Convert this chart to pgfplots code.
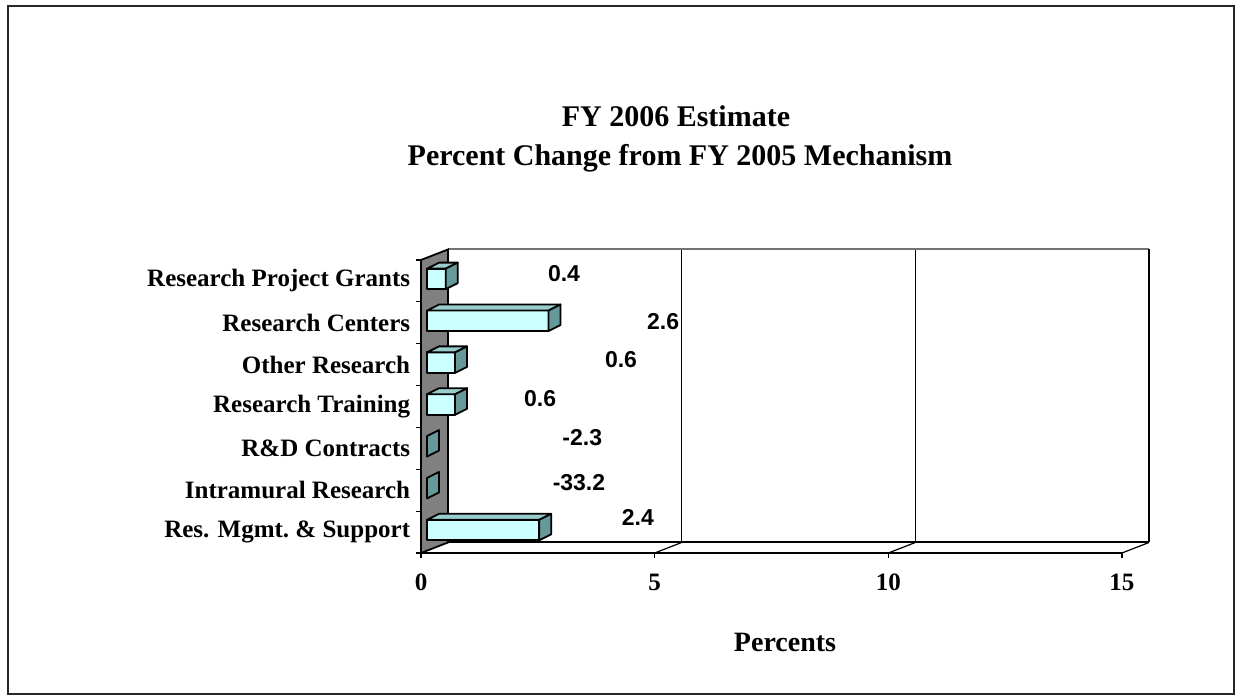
\documentclass[border=0pt]{standalone}
\usepackage{pgfplots}
\pgfplotsset{compat=1.18}
\usepackage{pgfplotstable}
\usepackage{fontspec}
\setmainfont{Liberation Serif}
\newfontfamily\arialfont{Liberation Sans}
\definecolor{frontc}{RGB}{204,255,255}
\definecolor{topc}{RGB}{153,204,204}
\definecolor{sidec}{RGB}{102,153,153}
\definecolor{wallc}{RGB}{128,128,128}
\pgfdeclareplotmark{empty}{}
% y = category centre, v = percent change, (lx,ly) = data label position
\pgfplotstableread{
y    v      lx     ly     lab
6.5  0.4    3.06   6.665  0.4
5.5  2.6    5.18   5.52   2.6
4.5  0.6    4.28   4.61   0.6
3.5  0.6    2.55   3.70   0.6
2.5  -2.3   3.45   2.75   -2.3
1.5  -33.2  3.38   1.67   -33.2
0.5  2.4    4.64   0.84   2.4
}\data
\begin{document}
\begin{tikzpicture}
\useasboundingbox (-210.5pt,-71pt) rectangle (407.5pt,276.5pt);
\draw[line width=1pt, black!85] (-206.5pt,-70.5pt) rectangle (406.5pt,273.5pt);
\node[anchor=base, font=\bfseries\fontsize{15}{17}\selectfont] at (127.5pt,213pt) {FY 2006 Estimate};
\node[anchor=base, font=\bfseries\fontsize{15}{17}\selectfont] at (129.5pt,193.5pt) {Percent Change from FY 2005 Mechanism};
\begin{axis}[
  at={(0pt,0pt)}, anchor=south west,
  x=23.365pt, y=20.93pt,
  xmin=0, xmax=15, ymin=0, ymax=7,
  clip=false,
  axis x line*=bottom, axis y line*=left,
  axis line style={draw=none},
  xtick={0,5,10,15},
  ytick={0,1,...,7},
  y tick label as interval,
  yticklabels={Res. Mgmt.\ \& Support, Intramural Research, R\&D Contracts, Research Training, Other Research, Research Centers, Research Project Grants},
  tick align=outside,
  major tick length=2.75pt,
  xtick style={black, line width=0.6pt},
  ytick style={black, line width=0.6pt},
  /pgf/number format/assume math mode=true,
  xticklabel style={font=\bfseries\fontsize{12.5}{14}\selectfont, anchor=base, yshift=-16pt},
  yticklabel style={font=\bfseries\fontsize{12.5}{14}\selectfont, anchor=east, inner xsep=2.5pt},
  xlabel={Percents},
  xlabel style={font=\bfseries\fontsize{14}{16}\selectfont, at={(axis description cs:0.5193,0)}, anchor=base, yshift=-49.5pt},
]
% back wall grid lines and edges
\pgfplotsinvokeforeach{5,10}{\draw[black, line width=0.6pt] ([xshift=13.5pt,yshift=5.25pt]axis cs:#1,0) -- ([xshift=13.5pt,yshift=5.25pt]axis cs:#1,7);}
\draw[black!55, line width=1pt] ([xshift=13.5pt,yshift=5.25pt]axis cs:0,7) -- ([xshift=13.5pt,yshift=5.25pt]axis cs:15,7);
\draw[black, line width=1pt] ([xshift=13.5pt,yshift=5.25pt]axis cs:15,0) -- ([xshift=13.5pt,yshift=5.25pt]axis cs:15,7);
% floor
\draw[black, line width=1pt] ([xshift=13.5pt,yshift=5.25pt]axis cs:0,0) -- ([xshift=13.5pt,yshift=5.25pt]axis cs:15,0);
\draw[black, line width=1pt] (axis cs:0,0) -- (axis cs:15,0);
\pgfplotsinvokeforeach{5,10,15}{\draw[black, line width=0.6pt] (axis cs:#1,0) -- ([xshift=13.5pt,yshift=5.25pt]axis cs:#1,0);}
% side wall
\filldraw[fill=wallc, draw=black, line width=0.9pt] (axis cs:0,0) -- (axis cs:0,7) -- ([xshift=13.5pt,yshift=5.25pt]axis cs:0,7) -- ([xshift=13.5pt,yshift=5.25pt]axis cs:0,0) -- cycle;
% 3-D bars (each drawn from its data point back to the zero plane)
\addplot[scatter, only marks, mark=empty,
  point meta=\thisrow{v},
  visualization depends on={\thisrow{v} \as \val},
  scatter/@pre marker code/.code={%
    \pgfmathsetmacro\barL{max(\val,0)*23.365}%
    \pgfmathsetmacro\barA{3-\val*23.365}%
    \pgfmathsetmacro\barB{\barA+\barL}%
    \pgfmathsetmacro\barAd{\barA+6}%
    \pgfmathsetmacro\barBd{\barB+6}%
    \begin{scope}[line width=0.9pt, line join=round]
      \ifdim\barL pt>0pt
        \filldraw[fill=frontc, draw=black] (canvas cs:x=\barA pt,y=-4.125pt) rectangle (canvas cs:x=\barB pt,y=6.125pt);
        \filldraw[fill=topc, draw=black] (canvas cs:x=\barA pt,y=6.125pt) -- (canvas cs:x=\barB pt,y=6.125pt) -- (canvas cs:x=\barBd pt,y=9.125pt) -- (canvas cs:x=\barAd pt,y=9.125pt) -- cycle;
      \fi
      \filldraw[fill=sidec, draw=black] (canvas cs:x=\barB pt,y=-4.125pt) -- (canvas cs:x=\barBd pt,y=-1.125pt) -- (canvas cs:x=\barBd pt,y=9.125pt) -- (canvas cs:x=\barB pt,y=6.125pt) -- cycle;
    \end{scope}
  },
  scatter/@post marker code/.code={},
] table[x=v, y=y] {\data};
% data labels
\addplot[only marks, mark=empty, point meta=explicit symbolic,
  nodes near coords,
  every node near coord/.append style={anchor=center, inner sep=0pt, font=\arialfont\bfseries\fontsize{11.5}{13}\selectfont},
] table[x=lx, y=ly, meta=lab] {\data};
\end{axis}
\end{tikzpicture}
\end{document}
